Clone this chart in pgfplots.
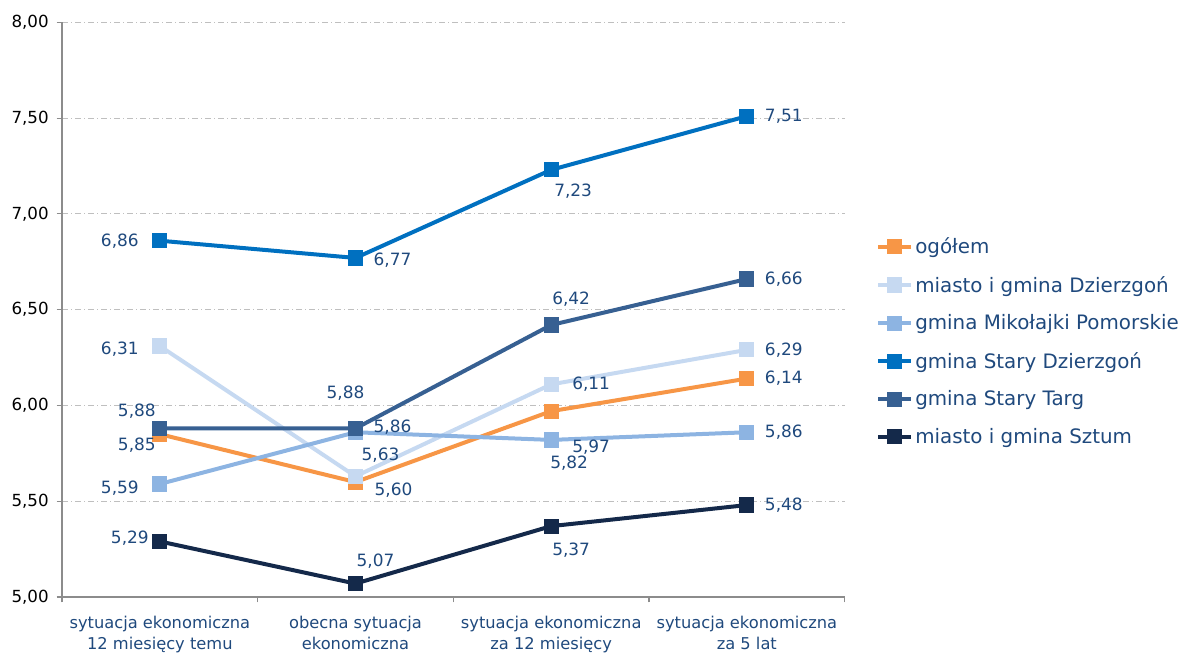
\documentclass[border=0pt]{standalone}
\usepackage{pgfplots}
\pgfplotsset{compat=1.18}
\usepackage{fontspec}
\setmainfont{DejaVu Sans}
\definecolor{cOg}{HTML}{F79646}
\definecolor{cDz}{HTML}{C6D9F1}
\definecolor{cMi}{HTML}{8DB4E2}
\definecolor{cSD}{HTML}{0070C0}
\definecolor{cST}{HTML}{376092}
\definecolor{cSz}{HTML}{14294A}
\definecolor{lbl}{HTML}{1F497D}
\definecolor{gridc}{HTML}{BFBFBF}
\definecolor{axc}{HTML}{8C8C8C}
\begin{document}
\begin{tikzpicture}
\begin{axis}[
  at={(0,0)}, anchor=south west,
  scale only axis, width=587pt, height=431pt,
  xmin=-0.5, xmax=3.5, ymin=5, ymax=8,
  axis x line*=bottom, axis y line*=left,
  axis line style={axc, line width=0.8pt},
  xtick={0,1,2,3},
  xticklabels={{sytuacja ekonomiczna\\12 miesięcy temu},{obecna sytuacja\\ekonomiczna},{sytuacja ekonomiczna\\za 12 miesięcy},{sytuacja ekonomiczna\\za 5 lat}},
  x tick label style={align=center, font=\fontsize{12.2}{15.5}\selectfont, text=lbl, yshift=-7pt},
  minor xtick={-0.5,0.5,1.5,2.5,3.5},
  major x tick style={draw=none},
  minor x tick style={axc, line width=0.8pt},
  ytick={5,5.5,...,8},
  y tick style={axc, line width=0.8pt},
  tick align=outside, major tick length=4pt, minor tick length=4pt,
  yticklabel style={font=\fontsize{12.5}{15}\selectfont, text=black, xshift=-2.5pt, /pgf/number format/.cd, fixed, fixed zerofill, precision=2, use comma},
  /pgf/number format/assume math mode=true,
  ymajorgrids, grid style={gridc, line width=0.6pt, dash pattern=on 4.5pt off 2.25pt on 0.75pt off 2.25pt},
  clip=false,
  every axis plot/.append style={line width=3pt, mark=square*, mark size=4.2pt, mark options={solid}},
  nodes near coords={\pgfmathprintnumber[fixed, fixed zerofill, precision=2, use comma]{\pgfplotspointmeta}},
  point meta=y,
  visualization depends on={\thisrow{dx}\as\dx},
  visualization depends on={\thisrow{dy}\as\dy},
  nodes near coords style={anchor=center, text=lbl, font=\fontsize{12.7}{14}\selectfont, xshift=\dx*0.75pt, yshift=\dy*0.75pt, /pgf/number format/assume math mode=true},
  legend style={at={(1.035,0.635)}, anchor=north west, draw=none, fill=none,
    font=\fontsize{14.9}{17}\selectfont, text=lbl, row sep=11.4pt,
    /tikz/every even column/.append style={column sep=0pt}},
  legend cell align=left,
  legend image code/.code={\draw[#1, line width=3pt] (0cm,0cm) -- (0.85cm,0cm); \draw[#1, mark repeat=2, mark phase=2] plot coordinates {(0cm,0cm) (0.425cm,0cm) (0.85cm,0cm)};},
]
\addplot[cOg] table {
x y dx dy
0 5.85 -23 -11
1 5.60 38 -8
2 5.97 40 -36
3 6.14 37 0
};
\addlegendentry{ogółem}
\addplot[cDz] table {
x y dx dy
0 6.31 -40 -3
1 5.63 25 21
2 6.11 40 0
3 6.29 37 0
};
\addlegendentry{miasto i gmina Dzierzgoń}
\addplot[cMi] table {
x y dx dy
0 5.59 -40 -4
1 5.86 37 5
2 5.82 18 -23
3 5.86 37 0
};
\addlegendentry{gmina Mikołajki Pomorskie}
\addplot[cSD] table {
x y dx dy
0 6.86 -40 0
1 6.77 37 -2
2 7.23 22 -21
3 7.51 37 0
};
\addlegendentry{gmina Stary Dzierzgoń}
\addplot[cST] table {
x y dx dy
0 5.88 -23 17
1 5.88 -10 35
2 6.42 20 26
3 6.66 37 0
};
\addlegendentry{gmina Stary Targ}
\addplot[cSz] table {
x y dx dy
0 5.29 -30 3
1 5.07 20 22
2 5.37 20 -24
3 5.48 37 0
};
\addlegendentry{miasto i gmina Sztum}
\end{axis}
\pgfresetboundingbox
\path[use as bounding box] (-46.5pt,-44.25pt) rectangle (841.5pt,447.75pt);
\end{tikzpicture}
\end{document}
